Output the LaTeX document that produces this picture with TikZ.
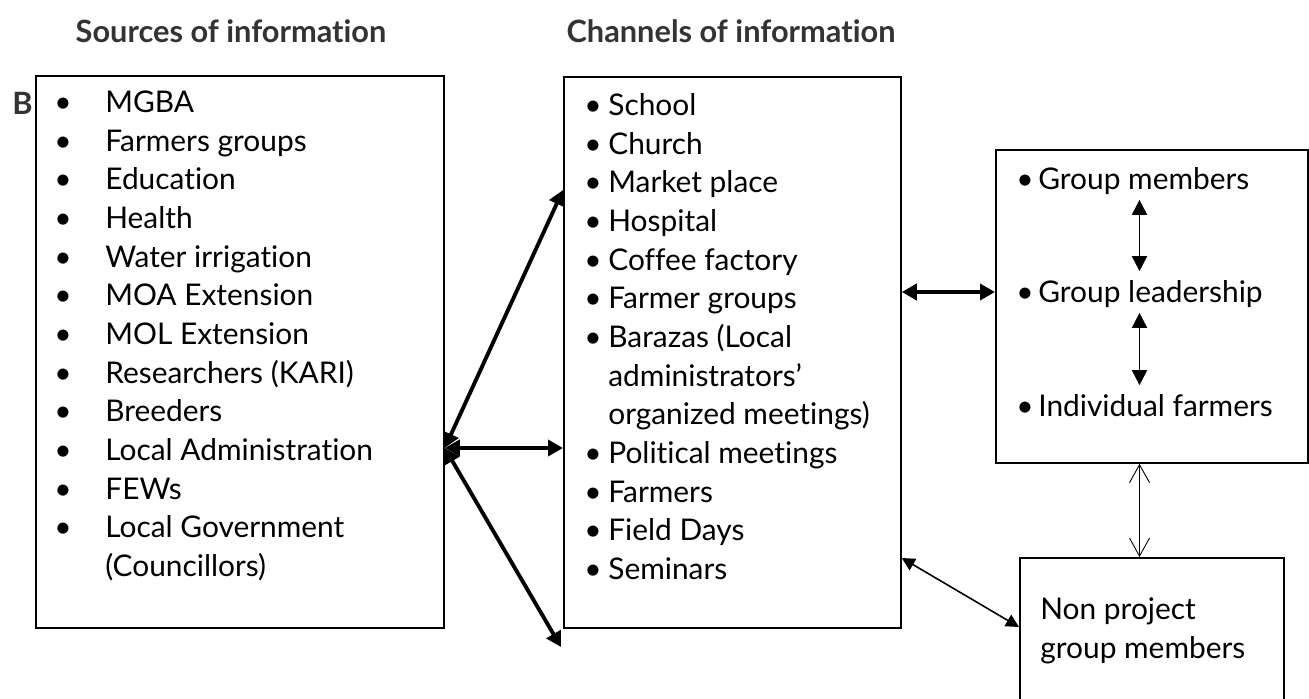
\documentclass[tikz,border=0pt]{standalone}
\usepackage{fontspec}
\setmainfont{Lato}[Ligatures=NoCommon]
\usetikzlibrary{arrows.meta,positioning}
\begin{document}
\begin{tikzpicture}[y=-1cm,
        box/.style={draw, line width=1pt, anchor=north west, inner sep=0pt},
        lst/.style={anchor=base west, inner sep=0pt, align=left,
                    font=\fontsize{17}{22}\selectfont},
        itm/.style={lst, text height=0.62cm, text depth=0.2cm},
        hd/.style={font=\fontsize{17.5}{20}\selectfont\bfseries, text=black!80},
        fat/.style={line width=2.2pt,
                    {Triangle[length=0.3cm,width=0.32cm]}-{Triangle[length=0.3cm,width=0.32cm]}},
        duo/.style={line width=1.1pt,
                    {Triangle[length=0.3cm,width=0.3cm]}-{Triangle[length=0.3cm,width=0.3cm]}},
        slim/.style={line width=0.9pt,
                    {Triangle[length=0.26cm,width=0.26cm]}-{Triangle[length=0.26cm,width=0.26cm]}},
        barb/.style={line width=0.5pt,
                    {Straight Barb[length=0.36cm,width=0.4cm]}-{Straight Barb[length=0.36cm,width=0.4cm]}},
    ]
    \useasboundingbox (0,0) rectangle (26.18,13.96);
    % titulos
    \node[hd] (srchd)  at (4.62,0.62)  {Sources of information};
    \node[hd] (chanhd) at (14.62,0.62) {Channels of information};
    \node[hd] (tagb)   at (0.45,2.06)  {B};
    % caixas
    \node[box, minimum width=8.16cm, minimum height=11.04cm] (src)  at (0.70,1.50) {};
    \node[box, minimum width=6.74cm, minimum height=11.02cm] (chan) at (11.26,1.52) {};
    \node[box, minimum width=6.24cm, minimum height=6.26cm]  (grp)  at (19.90,2.98) {};
    \node[box, minimum width=5.28cm, minimum height=3.20cm]  (nonproj) at (20.38,11.14) {};
    % fontes
    \node[lst] (srclist) at (1.08,2.25) {\begin{tabular}[t]{@{}p{1.02cm}@{}l@{}}
        \textbullet & MGBA\\
        \textbullet & Farmers groups\\
        \textbullet & Education\\
        \textbullet & Health\\
        \textbullet & Water irrigation\\
        \textbullet & MOA Extension\\
        \textbullet & MOL Extension\\
        \textbullet & Researchers (KARI)\\
        \textbullet & Breeders\\
        \textbullet & Local Administration\\
        \textbullet & FEWs\\
        \textbullet & Local Government\\
                    & (Councillors)
    \end{tabular}};
    % canais
    \node[lst] (chanlist) at (11.68,2.31) {\begin{tabular}[t]{@{}p{0.48cm}@{}l@{}}
        \textbullet & School\\
        \textbullet & Church\\
        \textbullet & Market place\\
        \textbullet & Hospital\\
        \textbullet & Coffee factory\\
        \textbullet & Farmer groups\\
        \textbullet & Barazas (Local\\
                    & administrators'\\
                    & organized meetings)\\
        \textbullet & Political meetings\\
        \textbullet & Farmers\\
        \textbullet & Field Days\\
        \textbullet & Seminars
    \end{tabular}};
    % grupo
    \node[itm] (gm) at (20.32,3.79) {\makebox[0.44cm][l]{\textbullet}Group members};
    \node[itm] (gl) at (20.32,6.05) {\makebox[0.44cm][l]{\textbullet}Group leadership};
    \node[itm] (gf) at (20.32,8.33) {\makebox[0.44cm][l]{\textbullet}Individual farmers};
    \node[lst] (nptext) at (20.80,13.16) {Non project\\group members};
    % setas
    \coordinate (hub) at (src.east |- 0,8.96);
    \coordinate (lowend) at (11.22,12.94);
    \coordinate (ax) at (22.79,0);
    \draw[fat] (hub) -- (chan.west |- 0,3.80);
    \draw[fat] (hub) -- (chan.west |- hub);
    \draw[fat] (hub) -- (lowend);
    \draw[fat] (chan.east |- 0,5.84) -- (grp.west |- 0,5.84);
    \draw[duo] (gm.south -| ax) -- (gl.north -| ax);
    \draw[duo] (gl.south -| ax) -- (gf.north -| ax);
    \draw[barb] (grp.south -| ax) -- (nonproj.north -| ax);
    \draw[slim] (chan.east |- 0,11.16) -- (nonproj.west |- 0,12.54);
\end{tikzpicture}
\end{document}
